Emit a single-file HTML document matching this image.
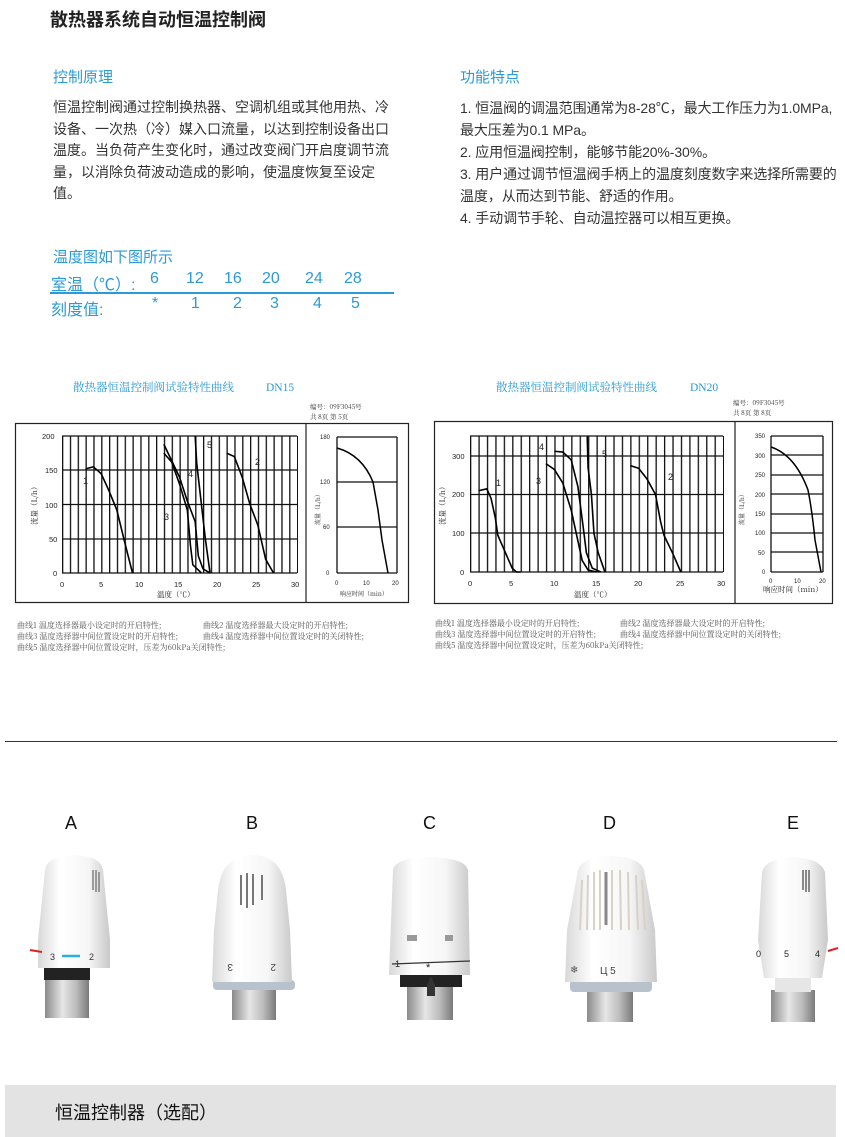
<!DOCTYPE html>
<html><head><meta charset="utf-8">
<style>
body{margin:0;width:845px;height:1137px;background:#fff;position:relative;overflow:hidden;font-family:"Liberation Sans","Noto Sans CJK SC",sans-serif;}
.a{position:absolute;white-space:nowrap;}
.h{color:#2a9bd6;font-size:15px;}
.p{color:#333;font-size:14px;line-height:21.5px;}
.t{color:#2a9bd6;font-size:16px;}
.cap{font-family:"Noto Serif CJK SC","Liberation Serif",serif;font-size:8px;color:#555;line-height:11px;}
</style></head><body>
<div class="a" style="left:50px;top:6px;font-size:18px;font-weight:bold;color:#222;">散热器系统自动恒温控制阀</div>
<div class="a h" style="left:53px;top:66px;">控制原理</div>
<div class="a h" style="left:460px;top:66px;">功能特点</div>
<div class="a p" style="left:53px;top:97px;width:342px;white-space:normal;">恒温控制阀通过控制换热器、空调机组或其他用热、冷设备、一次热（冷）媒入口流量，以达到控制设备出口温度。当负荷产生变化时，通过改变阀门开启度调节流量，以消除负荷波动造成的影响，使温度恢复至设定值。</div>
<div class="a p" style="left:460px;top:97px;line-height:22px;font-size:14px;letter-spacing:-0.1px;">1. 恒温阀的调温范围通常为8-28℃，最大工作压力为1.0MPa,<br>最大压差为0.1 MPa。<br>2. 应用恒温阀控制，能够节能20%-30%。<br>3. 用户通过调节恒温阀手柄上的温度刻度数字来选择所需要的<br>温度，从而达到节能、舒适的作用。<br>4. 手动调节手轮、自动温控器可以相互更换。</div>
<div class="a h" style="left:53px;top:246px;">温度图如下图所示</div>
<div class="a t" style="left:51px;top:271px;">室温（℃）:</div>
<div class="a t" style="left:51px;top:296px;">刻度值:</div>
<div class="a t" style="left:150px;top:270px;">6</div><div class="a t" style="left:186px;top:270px;">12</div><div class="a t" style="left:224px;top:270px;">16</div><div class="a t" style="left:262px;top:270px;">20</div><div class="a t" style="left:305px;top:270px;">24</div><div class="a t" style="left:344px;top:270px;">28</div>
<div class="a t" style="left:152px;top:295px;">*</div><div class="a t" style="left:191px;top:295px;">1</div><div class="a t" style="left:233px;top:295px;">2</div><div class="a t" style="left:270px;top:295px;">3</div><div class="a t" style="left:313px;top:295px;">4</div><div class="a t" style="left:351px;top:295px;">5</div>
<div class="a" style="left:50px;top:292px;width:344px;height:2px;background:#2a9bd6;"></div>

<svg class="a" style="left:0;top:370px" width="845" height="320" viewBox="0 370 845 320">
<defs>
<pattern id="v1" x="62" y="0" width="7.833" height="10" patternUnits="userSpaceOnUse"><rect x="0" y="0" width="1.3" height="10" fill="#111"/></pattern>
<pattern id="v2" x="470" y="0" width="8.433" height="10" patternUnits="userSpaceOnUse"><rect x="0" y="0" width="1.3" height="10" fill="#111"/></pattern>
</defs>
<g font-family="Noto Serif CJK SC,serif" fill="#2a9bd6" font-size="11.5"><text x="73" y="391">散热器恒温控制阀试验特性曲线</text><text x="266" y="391" font-family="Liberation Serif,serif">DN15</text>
<text x="496" y="391">散热器恒温控制阀试验特性曲线</text><text x="690" y="391" font-family="Liberation Serif,serif">DN20</text></g>
<g font-family="Noto Serif CJK SC,serif" fill="#333" font-size="6.5"><text x="310" y="409">编号：09F3045号</text><text x="310" y="419">共 8页 第 5页</text>
<text x="733" y="405">编号：09F3045号</text><text x="733" y="415">共 8页 第 8页</text></g>
<rect x="15.5" y="423.5" width="393" height="179" fill="none" stroke="#222" stroke-width="1.2"/>
<line x1="306" y1="423" x2="306" y2="603" stroke="#222" stroke-width="1.2"/>
<rect x="62" y="436" width="236" height="137" fill="url(#v1)"/>
<g stroke="#111" stroke-width="1.3"><line x1="62" y1="436" x2="297" y2="436"/><line x1="62" y1="470" x2="297" y2="470"/><line x1="62" y1="504.5" x2="297" y2="504.5"/><line x1="62" y1="539" x2="297" y2="539"/><line x1="62" y1="573" x2="297" y2="573"/>
<line x1="337" y1="437" x2="397" y2="437"/><line x1="337" y1="482" x2="397" y2="482"/><line x1="337" y1="527" x2="397" y2="527"/><line x1="337" y1="573" x2="397" y2="573"/><line x1="337" y1="437" x2="337" y2="573"/><line x1="397" y1="437" x2="397" y2="573"/></g>
<g transform="translate(62,573) scale(7.833,-0.685)" fill="none" stroke="#000">
<path vector-effect="non-scaling-stroke" stroke-width="1.6" d="M3,152 L4,155 L5,145 L6,120 L7,92 L8,45 L9,0"/>
<path vector-effect="non-scaling-stroke" stroke-width="1.6" d="M13,175 L14,162 L15,130 L16,92 L16.4,40 L16.7,12 L17.8,0"/>
<path vector-effect="non-scaling-stroke" stroke-width="1.6" d="M13,188 L15,140 L16,105 L17,75 L17.4,25 L18,6 L18.9,0"/>
<path vector-effect="non-scaling-stroke" stroke-width="1.6" d="M17,200 L17.2,160 L17.7,110 L18.3,50 L18.9,0"/>
<path vector-effect="non-scaling-stroke" stroke-width="1.6" d="M21,175 L22,170 L23,140 L24,100 L25,70 L26,20 L27,0"/>
</g>
<path d="M337,448 Q362,455 373,482 L378,510 L382,540 L388,573" fill="none" stroke="#000" stroke-width="1.5"/>
<g font-size="7.5" fill="#222" font-family="Liberation Sans,sans-serif"><text x="42" y="439">200</text><text x="45" y="473">150</text><text x="45" y="508">100</text><text x="49" y="542">50</text><text x="53" y="576">0</text>
<text x="60" y="587">0</text><text x="99" y="587">5</text><text x="135" y="587">10</text><text x="174" y="587">15</text><text x="213" y="587">20</text><text x="252" y="587">25</text><text x="291" y="587">30</text>
<text x="320" y="439" font-size="6">180</text><text x="320" y="484" font-size="6">120</text><text x="323" y="529" font-size="6">60</text><text x="326" y="575" font-size="6">0</text><text x="335" y="585" font-size="6">0</text><text x="363" y="585" font-size="6">10</text><text x="392" y="585" font-size="6">20</text>
<g font-size="9"><text x="83" y="484">1</text><text x="207" y="448">5</text><text x="188" y="477">4</text><text x="164" y="520">3</text><text x="255" y="465">2</text></g></g>
<g font-size="7.5" fill="#222" font-family="Noto Serif CJK SC,serif"><text x="157" y="597">温度（℃）</text><text x="340" y="596" font-size="6">响应时间（min）</text>
<text transform="translate(37,525) rotate(-90)">流量（L/h）</text><text transform="translate(320,525) rotate(-90)" font-size="6">流量（L/h）</text></g>
<rect x="434.5" y="421.5" width="398" height="182" fill="none" stroke="#222" stroke-width="1.2"/>
<line x1="735" y1="421" x2="735" y2="603" stroke="#222" stroke-width="1.2"/>
<rect x="470" y="436" width="254" height="136" fill="url(#v2)"/>
<g stroke="#111" stroke-width="1.3"><line x1="470" y1="436" x2="723" y2="436"/><line x1="470" y1="456" x2="723" y2="456"/><line x1="470" y1="494.5" x2="723" y2="494.5"/><line x1="470" y1="533" x2="723" y2="533"/><line x1="470" y1="572" x2="723" y2="572"/>
<line x1="771" y1="436" x2="823" y2="436"/><line x1="771" y1="455" x2="823" y2="455"/><line x1="771" y1="475" x2="823" y2="475"/><line x1="771" y1="494" x2="823" y2="494"/><line x1="771" y1="514" x2="823" y2="514"/><line x1="771" y1="533" x2="823" y2="533"/><line x1="771" y1="552" x2="823" y2="552"/><line x1="771" y1="572" x2="823" y2="572"/><line x1="771" y1="436" x2="771" y2="572"/><line x1="823" y1="436" x2="823" y2="572"/></g>
<g transform="translate(470,572) scale(8.433,-0.387)" fill="none" stroke="#000">
<path vector-effect="non-scaling-stroke" stroke-width="1.6" d="M1,210 L2,215 L2.5,190 L3,140 L3.3,95 L4,60 L5,10 L5.5,0 L6,0"/>
<path vector-effect="non-scaling-stroke" stroke-width="1.6" d="M9,280 L10,265 L11,230 L12,160 L12.6,100 L13.3,30 L14,5 L15,0"/>
<path vector-effect="non-scaling-stroke" stroke-width="1.6" d="M10,312 L11,310 L12,290 L12.8,220 L13.4,120 L13.8,50 L14.5,10 L15.5,0"/>
<path vector-effect="non-scaling-stroke" stroke-width="1.6" d="M13.9,350 L14,270 L14.4,200 L14.7,100 L15.2,50 L16,0"/>
<path vector-effect="non-scaling-stroke" stroke-width="1.6" d="M19,275 L20,268 L21,240 L22,200 L22.6,130 L23,95 L24,50 L25,0"/>
</g>
<path d="M771,447 Q795,455 808,490 Q812,510 815,540 L821,572" fill="none" stroke="#000" stroke-width="1.5"/>
<g font-size="7.5" fill="#222" font-family="Liberation Sans,sans-serif"><text x="452" y="459">300</text><text x="452" y="497">200</text><text x="452" y="536">100</text><text x="460" y="575">0</text>
<text x="468" y="586">0</text><text x="509" y="586">5</text><text x="550" y="586">10</text><text x="592" y="586">15</text><text x="634" y="586">20</text><text x="676" y="586">25</text><text x="717" y="586">30</text>
<g font-size="6"><text x="755" y="438">350</text><text x="755" y="458">300</text><text x="755" y="477">250</text><text x="755" y="497">200</text><text x="755" y="516">150</text><text x="755" y="535">100</text><text x="758" y="555">50</text><text x="762" y="574">0</text><text x="769" y="583">0</text><text x="794" y="583">10</text><text x="819" y="583">20</text></g>
<g font-size="9"><text x="496" y="486">1</text><text x="539" y="450">4</text><text x="536" y="484">3</text><text x="602" y="457">5</text><text x="668" y="480">2</text></g></g>
<g font-size="7.5" fill="#222" font-family="Noto Serif CJK SC,serif"><text x="574" y="597">温度（℃）</text><text x="763" y="592">响应时间（min）</text>
<text transform="translate(445,525) rotate(-90)">流量（L/h）</text><text transform="translate(744,525) rotate(-90)" font-size="6">流量（L/h）</text></g>
</svg>
<div class="a cap" style="left:17px;top:620px;">曲线1 温度选择器最小设定时的开启特性;<br>曲线3 温度选择器中间位置设定时的开启特性;<br>曲线5 温度选择器中间位置设定时，压差为60kPa关闭特性;</div>
<div class="a cap" style="left:203px;top:620px;">曲线2 温度选择器最大设定时的开启特性;<br>曲线4 温度选择器中间位置设定时的关闭特性;</div>
<div class="a cap" style="left:435px;top:618px;">曲线1 温度选择器最小设定时的开启特性;<br>曲线3 温度选择器中间位置设定时的开启特性;<br>曲线5 温度选择器中间位置设定时，压差为60kPa关闭特性;</div>
<div class="a cap" style="left:620px;top:618px;">曲线2 温度选择器最大设定时的开启特性;<br>曲线4 温度选择器中间位置设定时的关闭特性;</div>

<div class="a" style="left:5px;top:741px;width:832px;height:1px;background:#333;"></div>

<div class="a" style="left:65px;top:813px;font-size:18px;color:#111;">A</div>
<div class="a" style="left:246px;top:813px;font-size:18px;color:#111;">B</div>
<div class="a" style="left:423px;top:813px;font-size:18px;color:#111;">C</div>
<div class="a" style="left:603px;top:813px;font-size:18px;color:#111;">D</div>
<div class="a" style="left:787px;top:813px;font-size:18px;color:#111;">E</div>

<svg class="a" style="left:0;top:840px" width="845" height="200" viewBox="0 840 845 200">
<defs>
<linearGradient id="w" x1="0" x2="1"><stop offset="0" stop-color="#d8d8d8"/><stop offset=".3" stop-color="#fff"/><stop offset=".7" stop-color="#f6f6f6"/><stop offset="1" stop-color="#c9c9c9"/></linearGradient>
<linearGradient id="m" x1="0" x2="1"><stop offset="0" stop-color="#8a8a8a"/><stop offset=".4" stop-color="#e6e6e6"/><stop offset=".7" stop-color="#bdbdbd"/><stop offset="1" stop-color="#7a7a7a"/></linearGradient>
</defs>
<rect x="45" y="978" width="44" height="40" fill="url(#m)"/><rect x="44" y="968" width="46" height="12" fill="#222"/>
<path d="M45,870 Q47,856 74,855 Q101,856 103,870 L110,940 L110,968 L38,968 L38,940 Z" fill="url(#w)"/>
<g stroke="#666" stroke-width="1.2"><line x1="93" y1="870" x2="93" y2="890"/><line x1="96" y1="870" x2="96" y2="892"/><line x1="99" y1="872" x2="99" y2="892"/></g>
<line x1="30" y1="950" x2="42" y2="952" stroke="#d22" stroke-width="2"/><line x1="62" y1="956" x2="80" y2="956" stroke="#2ab0e0" stroke-width="2.5"/>
<text x="50" y="960" font-size="9" fill="#333">3</text><text x="89" y="960" font-size="9" fill="#333">2</text>
<rect x="232" y="985" width="44" height="35" fill="url(#m)"/><rect x="213" y="980" width="82" height="10" rx="4" fill="#b8c2cc"/>
<path d="M218,890 Q222,855 252,855 Q282,855 286,890 L290,930 L292,982 L212,982 L214,930 Z" fill="url(#w)"/>
<g stroke="#777" stroke-width="2"><line x1="241" y1="875" x2="241" y2="905"/><line x1="247" y1="873" x2="247" y2="908"/><line x1="253" y1="874" x2="253" y2="905"/><line x1="262" y1="875" x2="262" y2="900"/></g>
<text x="227" y="972" font-size="10" fill="#444" transform="rotate(180 230 968)">3</text><text x="270" y="972" font-size="10" fill="#444" transform="rotate(180 273 968)">2</text>
<rect x="407" y="985" width="46" height="35" fill="url(#m)"/><rect x="400" y="975" width="62" height="12" fill="#222"/>
<path d="M393,870 Q395,858 430,857 Q465,858 468,870 L470,975 L389,975 Z" fill="url(#w)"/>
<line x1="392" y1="964" x2="470" y2="961" stroke="#333" stroke-width="1.2"/><text x="395" y="967" font-size="9" fill="#222">1</text><text x="426" y="971" font-size="11" fill="#222">*</text>
<rect x="407" y="935" width="10" height="6" fill="#999"/><rect x="445" y="935" width="8" height="6" fill="#999"/>
<path d="M427,985 L431,976 L435,985 L435,996 L427,996 Z" fill="#333"/>
<rect x="587" y="990" width="46" height="32" fill="url(#m)"/><rect x="570" y="980" width="82" height="12" rx="4" fill="#b8c2cc"/>
<path d="M578,870 Q582,857 610,856 Q640,857 644,870 L655,930 L657,982 L565,982 L567,930 Z" fill="url(#w)"/>
<g stroke="#d8d2c6" stroke-width="2"><line x1="582" y1="880" x2="580" y2="930"/><line x1="588" y1="875" x2="587" y2="930"/><line x1="594" y1="872" x2="594" y2="930"/><line x1="600" y1="870" x2="600" y2="930"/><line x1="612" y1="870" x2="612" y2="930"/><line x1="620" y1="870" x2="621" y2="930"/><line x1="628" y1="872" x2="629" y2="930"/><line x1="636" y1="875" x2="638" y2="930"/><line x1="642" y1="880" x2="645" y2="930"/></g>
<line x1="606" y1="872" x2="606" y2="925" stroke="#888" stroke-width="3"/>
<text x="570" y="973" font-size="10" fill="#555">❄</text><text x="600" y="974" font-size="10" fill="#444">Ц 5</text>
<rect x="771" y="990" width="44" height="32" fill="url(#m)"/><rect x="775" y="978" width="36" height="14" fill="#e6e6e6"/>
<path d="M762,872 Q766,858 793,857 Q820,858 825,872 L828,940 L822,978 L764,978 L758,940 Z" fill="url(#w)"/>
<g stroke="#666" stroke-width="1.5"><line x1="803" y1="870" x2="803" y2="890"/><line x1="806" y1="870" x2="806" y2="892"/><line x1="809" y1="870" x2="809" y2="892"/></g>
<text x="756" y="957" font-size="9" fill="#222">0</text><text x="784" y="957" font-size="9" fill="#222">5</text><text x="815" y="957" font-size="9" fill="#222">4</text>
<line x1="828" y1="951" x2="838" y2="948" stroke="#d22" stroke-width="2"/>
</svg>

<div class="a" style="left:5px;top:1085px;width:831px;height:52px;background:#e3e3e3;"></div>
<div class="a" style="left:55px;top:1099px;font-size:18px;color:#111;">恒温控制器（选配）</div>
</body></html>
